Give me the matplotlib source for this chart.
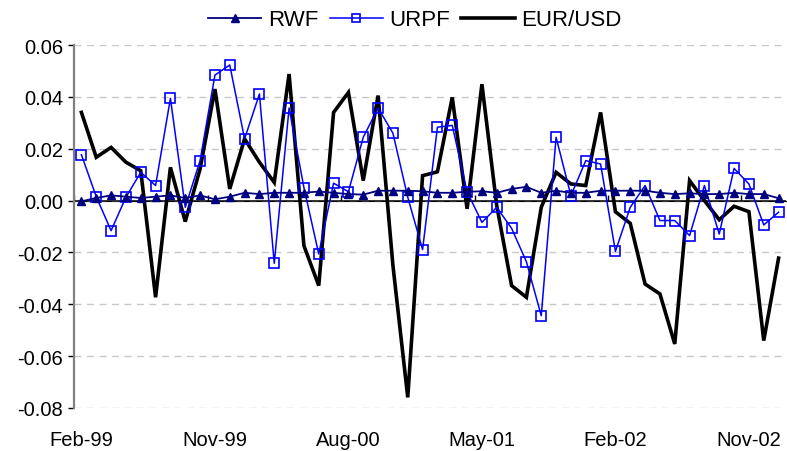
import matplotlib
matplotlib.use("Agg")
import matplotlib.pyplot as plt
import numpy as np

plt.rcParams['font.family'] = ['Liberation Sans', 'DejaVu Sans']

tick_labels = ["Feb-99", "Nov-99", "Aug-00", "May-01", "Feb-02", "Nov-02"]
label_step = 9

rwf = [-0.0003, 0.001, 0.002, 0.0015, 0.001, 0.0015, 0.002, 0.001, 0.002, 0.0005,
       0.0015, 0.003, 0.0025, 0.003, 0.003, 0.003, 0.0035, 0.003, 0.0025, 0.0023,
       0.0038, 0.0038, 0.0038, 0.0036, 0.003, 0.003, 0.0034, 0.0036, 0.003, 0.0045,
       0.0053, 0.003, 0.0038, 0.003, 0.003, 0.0038, 0.0038, 0.0038, 0.0038, 0.003,
       0.0025, 0.0028, 0.0025, 0.0025, 0.003, 0.0025, 0.0025, 0.0009]

urpf = [0.0177, 0.0015, -0.0116, 0.0013, 0.0109, 0.0058, 0.0394, -0.0026, 0.0154, 0.0484,
        0.0523, 0.0238, 0.0411, -0.0242, 0.0357, 0.0050, -0.0206, 0.0067, 0.0034, 0.0244,
        0.0357, 0.026, 0.0013, -0.0189, 0.0283, 0.029, 0.0034, -0.0084, -0.0026, -0.0107,
        -0.0236, -0.0444, 0.0244, 0.0019, 0.0154, 0.0141, -0.0196, -0.0026, 0.0058, -0.0077,
        -0.0077, -0.0135, 0.0058, -0.0129, 0.0124, 0.0064, -0.0094, -0.0045]

eurusd = [0.034, 0.0167, 0.0205, 0.0148, 0.0115, -0.0373, 0.0128, -0.0081, 0.0122, 0.043,
          0.0045, 0.0238, 0.0148, 0.007, 0.0488, -0.0174, -0.0328, 0.034, 0.0417, 0.0077,
          0.0405, -0.025, -0.0759, 0.0096, 0.0111, 0.0398, -0.0032, 0.0449, -0.002, -0.0328,
          -0.0373, -0.0026, 0.0109, 0.0064, 0.0058, 0.034, -0.0043, -0.0088, -0.0322, -0.036,
          -0.0553, 0.0077, 0.0, -0.0074, -0.0022, -0.0043, -0.054, -0.0222]

n = len(rwf)
x = np.arange(n)

fig = plt.figure(figsize=(7.87, 4.52), dpi=100)
ax = fig.add_axes([74/787, 1 - 409/452, (786-74)/787, (409-46)/452])

ax.axhline(0, color='black', lw=1.1, zorder=2.5)
ax.plot(x, eurusd, color='black', lw=2.6, zorder=3, label='EUR/USD', solid_joinstyle='miter')
ax.plot(x, urpf, color='#0000FF', lw=1.1, marker='s', ms=6.5, mfc='none', mec='#0000FF',
        mew=1.2, zorder=4, label='URPF')
ax.plot(x, rwf, color='#000080', lw=1.3, marker='^', ms=6, mfc='#000080', mec='#000080',
        zorder=5, label='RWF')

ax.set_xlim(-0.5, n - 0.5)
ax.set_ylim(-0.08, 0.06)
yt = np.arange(-0.08, 0.0601, 0.02)
ax.set_yticks(yt)
ax.set_yticklabels([f"{v:.2f}" for v in yt])
ax.yaxis.grid(True, color='#c8c8c8', ls=(0, (5, 4)), lw=1)
ax.set_axisbelow(True)

for s in ['top', 'right', 'bottom']:
    ax.spines[s].set_visible(False)
ax.spines['left'].set_color('#808080')
ax.spines['left'].set_linewidth(1.6)

ax.tick_params(axis='y', length=4, width=1, color='black', labelsize=14.5, pad=4)
ax.set_xticks(x[::label_step])
ax.set_xticklabels(tick_labels)
ax.tick_params(axis='x', length=0, labelsize=14.5, pad=16)

# category-boundary tick marks on the zero line
zero_frac = (0 - (-0.08)) / 0.14
sec = ax.secondary_xaxis(zero_frac)
sec.set_xticks(np.arange(-0.5, n, label_step))
sec.set_xticklabels([])
sec.tick_params(axis='x', length=4, width=1, color='black', direction='out')
sec.spines['bottom'].set_visible(False)

handles, labels = ax.get_legend_handles_labels()
order = [2, 1, 0]
fig.legend([handles[i] for i in order], [labels[i] for i in order], loc='center',
           bbox_to_anchor=(415/787, 1 - 21/452), ncol=3, frameon=False, fontsize=16,
           handlelength=2.4, handletextpad=0.3, columnspacing=0.5, markerscale=0.9)

fig.savefig("out.png", dpi=100)
